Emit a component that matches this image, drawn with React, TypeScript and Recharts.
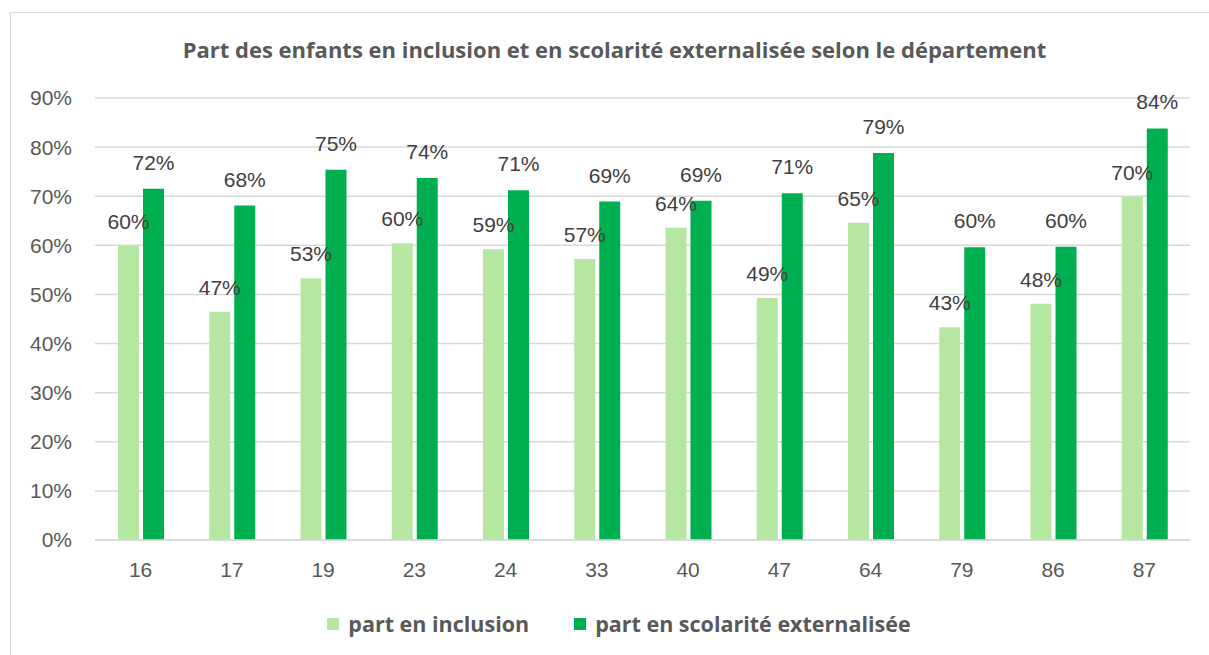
import React from 'react';
import { BarChart, Bar, XAxis, YAxis, CartesianGrid, LabelList } from 'recharts';

const departements = ['16', '17', '19', '23', '24', '33', '40', '47', '64', '79', '86', '87'];
const partInclusion = [59.9, 46.5, 53.3, 60.4, 59.2, 57.2, 63.6, 49.3, 64.6, 43.3, 48.1, 69.9];
const partExternalisee = [71.5, 68.1, 75.4, 73.7, 71.2, 68.9, 69.1, 70.6, 78.8, 59.6, 59.7, 83.8];
const yTicks = [0, 10, 20, 30, 40, 50, 60, 70, 80, 90];

const seriesNames = ['part en inclusion', 'part en scolarité externalisée'];
const COLORS = { light: '#B5E6A2', dark: '#00B050' };

const data = departements.map((d, i) => ({
  dep: d,
  inclusion: partInclusion[i],
  externalisee: partExternalisee[i],
}));

const fmt = (v: any) => `${Math.round(Number(v))}%`;
const FONT = 'Liberation Sans, Arial, sans-serif';
const labelStyle = { fill: '#404040', fontSize: 21, fontFamily: FONT };

const App: React.FC = () => {
  return (
    <div style={{ position: 'relative', width: 1209, height: 655, overflow: 'hidden', background: '#fff' }}>
      <style>{'html,body{margin:0;padding:0;overflow:hidden;}'}</style>
      {/* cadre du graphique, coupé à droite et en bas */}
      <div
        style={{
          position: 'absolute',
          left: 10,
          top: 12,
          width: 1260,
          height: 700,
          borderLeft: '1.5px solid #D9D9D9',
          borderTop: '1.5px solid #D9D9D9',
        }}
      />
      <div
        style={{
          position: 'absolute',
          top: 34,
          left: 0,
          width: 1229,
          textAlign: 'center',
          fontFamily: 'Open Sans, sans-serif',
          fontWeight: 700,
          fontSize: 22,
          lineHeight: 'normal',
          color: '#595959',
        }}
      >
        Part des enfants en inclusion et en scolarité externalisée selon le département
      </div>

      <div style={{ position: 'absolute', left: 0, top: 0 }}>
        <BarChart
          width={1209}
          height={655}
          data={data}
          margin={{ top: 98, right: 19, bottom: 0, left: 0 }}
          barSize={21}
          barGap={4}
        >
          <CartesianGrid vertical={false} stroke="#D9D9D9" strokeWidth={1.5} />
          <XAxis
            dataKey="dep"
            height={115}
            axisLine={{ stroke: '#D9D9D9', strokeWidth: 1.5 }}
            tickLine={false}
            tickMargin={16}
            tick={{ fill: '#595959', fontSize: 21, fontFamily: FONT }}
          />
          <YAxis
            width={95}
            domain={[0, 90]}
            ticks={yTicks}
            axisLine={false}
            tickLine={false}
            tickMargin={17}
            tickFormatter={(v: number) => `${v}%`}
            tick={{ fill: '#595959', fontSize: 21, fontFamily: FONT }}
          />
          <Bar dataKey="inclusion" name={seriesNames[0]} fill={COLORS.light} isAnimationActive={false}>
            <LabelList dataKey="inclusion" position="top" offset={17} formatter={fmt} style={labelStyle} />
          </Bar>
          <Bar dataKey="externalisee" name={seriesNames[1]} fill={COLORS.dark} isAnimationActive={false}>
            <LabelList dataKey="externalisee" position="top" offset={19} formatter={fmt} style={labelStyle} />
          </Bar>
        </BarChart>
      </div>

      {/* légende */}
      <div
        style={{
          position: 'absolute',
          top: 609,
          left: 0,
          width: 1238,
          display: 'flex',
          justifyContent: 'center',
          gap: 45,
          fontFamily: 'Open Sans, sans-serif',
          fontWeight: 700,
          fontSize: 21.5,
          lineHeight: 'normal',
          color: '#595959',
        }}
      >
        {seriesNames.map((n, i) => (
          <div key={n} style={{ display: 'flex', alignItems: 'center' }}>
            <span
              style={{
                display: 'inline-block',
                width: 12,
                height: 12,
                marginRight: 9,
                background: i === 0 ? COLORS.light : COLORS.dark,
              }}
            />
            <span>{n}</span>
          </div>
        ))}
      </div>
    </div>
  );
};

export default App;
